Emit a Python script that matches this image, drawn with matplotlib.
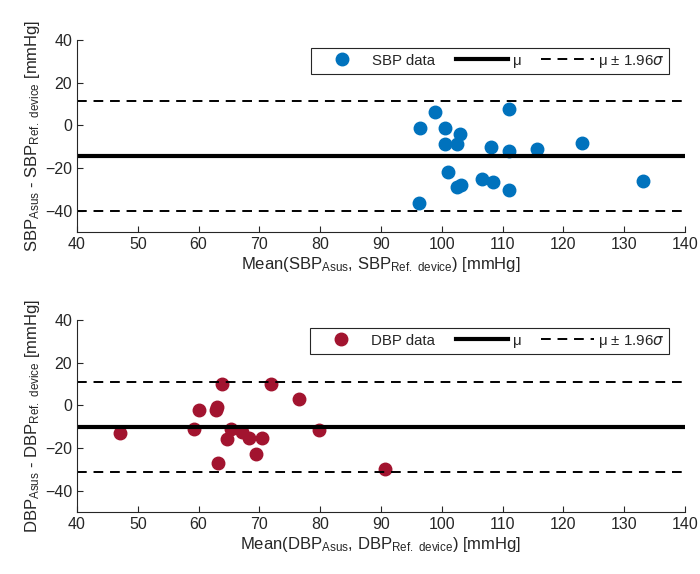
import matplotlib
matplotlib.use("Agg")
import matplotlib.pyplot as plt

plt.rcParams['font.family'] = ['Liberation Sans', 'DejaVu Sans']
plt.rcParams['mathtext.default'] = 'regular'

# SBP: mean of both devices vs difference
sbp_mean = [96.4, 98.8, 100.5, 103.0, 100.5, 102.5, 108.1, 111.1, 111.1, 115.6,
            123.1, 101.0, 102.5, 103.1, 106.6, 108.4, 111.1, 96.3, 133.1]
sbp_diff = [-1.1, 6.4, -1.1, -3.9, -8.9, -8.9, -10.2, 7.8, -12.0, -11.2,
            -8.1, -22.1, -28.9, -28.1, -25.1, -26.5, -30.1, -36.6, -26.1]
sbp_mu = -14.2
sbp_loa = [11.6, -40.0]

# DBP
dbp_mean = [47.1, 59.3, 60.0, 62.8, 63.1, 63.8, 63.2, 64.6, 65.4, 67.1,
            68.3, 69.4, 70.5, 71.9, 76.5, 79.8, 90.7]
dbp_diff = [-12.8, -11.2, -2.3, -2.3, -0.8, 9.8, -26.8, -15.9, -11.2, -12.5,
            -15.3, -22.9, -15.3, 9.8, 2.8, -11.7, -29.9]
dbp_mu = -10.3
dbp_loa = [10.8, -31.3]

xticks = list(range(40, 141, 10))
yticks = [-40, -20, 0, 20, 40]
grey = '#262626'

fig = plt.figure(figsize=(7, 5.74), dpi=100)
ax1 = fig.add_axes([0.11, 0.596, 0.8686, 0.334])
ax2 = fig.add_axes([0.11, 0.108, 0.8686, 0.3345])


def panel(ax, xs, ys, mu, loa, color, name):
    ax.plot(xs, ys, 'o', color=color, markersize=9, label=name + ' data')
    ax.axhline(mu, color='k', lw=3, label='μ')
    ax.axhline(loa[0], color='k', lw=1.4, ls=(0, (5, 3.5)), label='μ $\\pm$ 1.96$\\mathit{\\sigma}$')
    ax.axhline(loa[1], color='k', lw=1.4, ls=(0, (5, 3.5)))
    ax.set_xlim(40, 140)
    ax.set_ylim(-50, 40)
    ax.set_xticks(xticks)
    ax.set_yticks(yticks)
    for s in ['top', 'right']:
        ax.spines[s].set_visible(False)
    for s in ['left', 'bottom']:
        ax.spines[s].set_color(grey)
    ax.tick_params(direction='in', colors=grey, labelsize=11.5, length=4)
    ax.set_xlabel('Mean(%s$_{Asus}$, %s$_{Ref.\\;device}$) [mmHg]' % (name, name),
                  fontsize=12, color=grey, labelpad=2)
    ax.set_ylabel('%s$_{Asus}$ - %s$_{Ref.\\;device}$ [mmHg]' % (name, name),
                  fontsize=12, color=grey, labelpad=2)
    leg = ax.legend(ncol=3, loc='upper right', bbox_to_anchor=(0.974, 0.958),
                    borderaxespad=0, fontsize=10.8, fancybox=False, framealpha=1,
                    edgecolor=grey, handlelength=3.5, columnspacing=1.35,
                    handletextpad=0.3, borderpad=0.3)
    leg.get_frame().set_linewidth(0.8)
    for t in leg.get_texts():
        t.set_color(grey)


panel(ax1, sbp_mean, sbp_diff, sbp_mu, sbp_loa, '#0072BD', 'SBP')
panel(ax2, dbp_mean, dbp_diff, dbp_mu, dbp_loa, '#A2142F', 'DBP')

fig.savefig('out.png', dpi=100)
